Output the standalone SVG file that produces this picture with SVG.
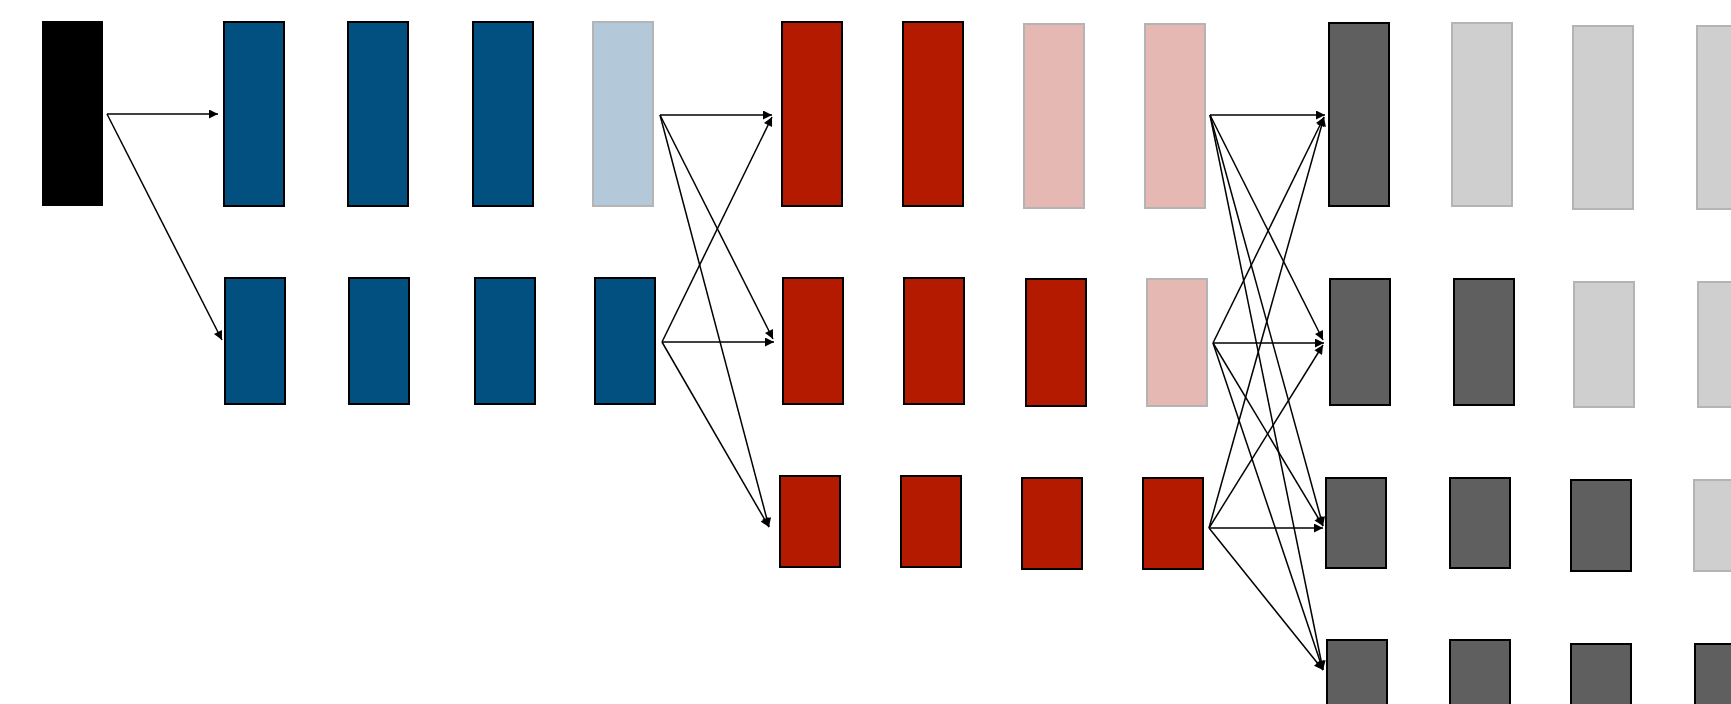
<svg xmlns="http://www.w3.org/2000/svg" width="1731" height="704" viewBox="0 0 1731 704">
<style>
.blue{fill:#02507F;stroke:#000;stroke-width:2}
.lblue{fill:#B3C8D9;stroke:#B4B4B4;stroke-width:2}
.red{fill:#B41A00;stroke:#000;stroke-width:2}
.pink{fill:#E6B8B3;stroke:#B4B4B4;stroke-width:2}
.dgray{fill:#5F5F5F;stroke:#000;stroke-width:2}
.lgray{fill:#CFCFCF;stroke:#B4B4B4;stroke-width:2}
.c line{stroke:#000;stroke-width:1.5;fill:none;marker-end:url(#ah)}
</style>
<defs>
<marker id="ah" viewBox="0 0 10 10" refX="10" refY="5" markerWidth="11" markerHeight="9" markerUnits="userSpaceOnUse" orient="auto"><path d="M0,0 L10,5 L0,10 z" fill="#000"/></marker>
</defs>
<rect width="1731" height="704" fill="#fff"/>
<g id="n0"><rect x="42" y="21" width="61" height="185" fill="#000"/></g>
<g id="b1"><rect class="blue" x="224" y="22" width="60" height="184"/></g>
<g id="b2"><rect class="blue" x="348" y="22" width="60" height="184"/></g>
<g id="b3"><rect class="blue" x="473" y="22" width="60" height="184"/></g>
<g id="b4"><rect class="lblue" x="593" y="22" width="60" height="184"/></g>
<g id="b5"><rect class="blue" x="225" y="278" width="60" height="126"/></g>
<g id="b6"><rect class="blue" x="349" y="278" width="60" height="126"/></g>
<g id="b7"><rect class="blue" x="475" y="278" width="60" height="126"/></g>
<g id="b8"><rect class="blue" x="595" y="278" width="60" height="126"/></g>
<g id="r1"><rect class="red" x="782" y="22" width="60" height="184"/></g>
<g id="r2"><rect class="red" x="903" y="22" width="60" height="184"/></g>
<g id="r3"><rect class="pink" x="1024" y="24" width="60" height="184"/></g>
<g id="r4"><rect class="pink" x="1145" y="24" width="60" height="184"/></g>
<g id="r5"><rect class="red" x="783" y="278" width="60" height="126"/></g>
<g id="r6"><rect class="red" x="904" y="278" width="60" height="126"/></g>
<g id="r7"><rect class="red" x="1026" y="279" width="60" height="127"/></g>
<g id="r8"><rect class="pink" x="1147" y="279" width="60" height="127"/></g>
<g id="r9"><rect class="red" x="780" y="476" width="60" height="91"/></g>
<g id="r10"><rect class="red" x="901" y="476" width="60" height="91"/></g>
<g id="r11"><rect class="red" x="1022" y="478" width="60" height="91"/></g>
<g id="r12"><rect class="red" x="1143" y="478" width="60" height="91"/></g>
<g id="g1"><rect class="dgray" x="1329" y="23" width="60" height="183"/></g>
<g id="g2"><rect class="lgray" x="1452" y="23" width="60" height="183"/></g>
<g id="g3"><rect class="lgray" x="1573" y="26" width="60" height="183"/></g>
<g id="g4"><rect class="lgray" x="1697" y="26" width="60" height="183"/></g>
<g id="g5"><rect class="dgray" x="1330" y="279" width="60" height="126"/></g>
<g id="g6"><rect class="dgray" x="1454" y="279" width="60" height="126"/></g>
<g id="g7"><rect class="lgray" x="1574" y="282" width="60" height="125"/></g>
<g id="g8"><rect class="lgray" x="1698" y="282" width="60" height="125"/></g>
<g id="g9"><rect class="dgray" x="1326" y="478" width="60" height="90"/></g>
<g id="g10"><rect class="dgray" x="1450" y="478" width="60" height="90"/></g>
<g id="g11"><rect class="dgray" x="1571" y="480" width="60" height="91"/></g>
<g id="g12"><rect class="lgray" x="1694" y="480" width="60" height="91"/></g>
<g id="g13"><rect class="dgray" x="1327" y="640" width="60" height="70"/></g>
<g id="g14"><rect class="dgray" x="1450" y="640" width="60" height="70"/></g>
<g id="g15"><rect class="dgray" x="1571" y="644" width="60" height="70"/></g>
<g id="g16"><rect class="dgray" x="1695" y="644" width="60" height="70"/></g>
<g id="connectors" class="c">
<line x1="107" y1="114" x2="218" y2="114"/>
<line x1="107" y1="114" x2="222" y2="340"/>
<line x1="660" y1="115" x2="772" y2="115"/>
<line x1="660" y1="115" x2="773" y2="339"/>
<line x1="660" y1="115" x2="769" y2="527"/>
<line x1="662" y1="342" x2="772" y2="117"/>
<line x1="662" y1="342" x2="774" y2="342"/>
<line x1="662" y1="342" x2="769" y2="527"/>
<line x1="1210" y1="115" x2="1325" y2="115"/>
<line x1="1210" y1="115" x2="1323" y2="340"/>
<line x1="1210" y1="115" x2="1323" y2="526"/>
<line x1="1210" y1="115" x2="1323" y2="670"/>
<line x1="1213" y1="343" x2="1324" y2="117"/>
<line x1="1213" y1="343" x2="1324" y2="343"/>
<line x1="1213" y1="343" x2="1323" y2="526"/>
<line x1="1213" y1="343" x2="1323" y2="670"/>
<line x1="1209" y1="528" x2="1324" y2="117"/>
<line x1="1209" y1="528" x2="1323" y2="345"/>
<line x1="1209" y1="528" x2="1323" y2="528"/>
<line x1="1209" y1="528" x2="1323" y2="670"/>
</g>
</svg>
